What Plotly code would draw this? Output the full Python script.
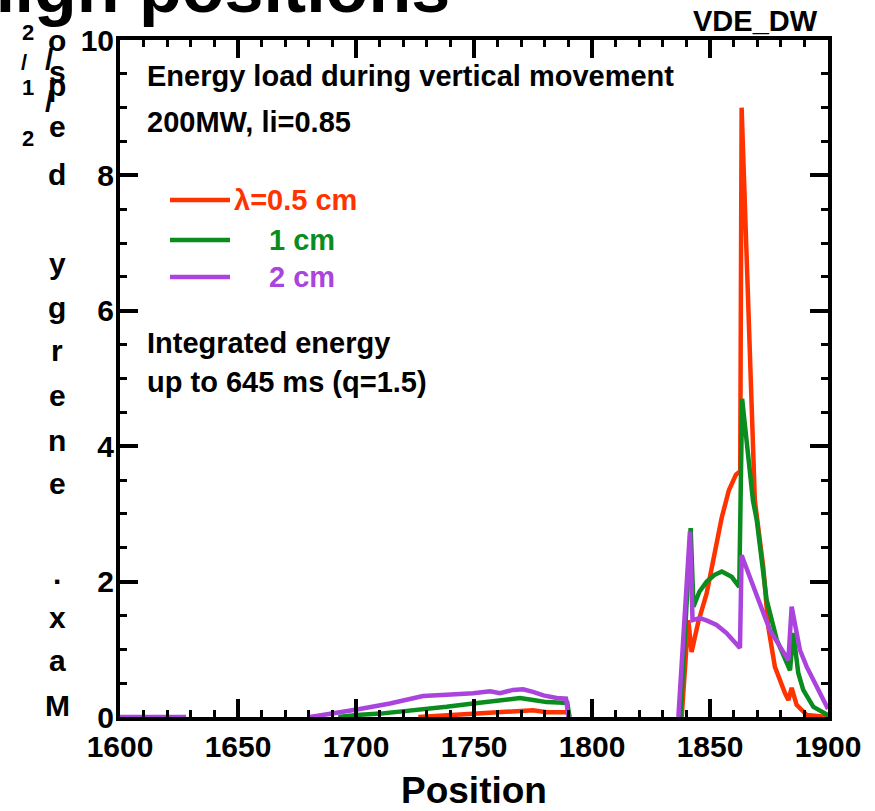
import plotly.graph_objects as go

FONT = "Liberation Sans, Arial, sans-serif"
RED = "#FF3300"
GREEN = "#0A8C1E"
PURPLE = "#AA44DD"

# lambda = 0.5 cm (None = zero, hidden under the axis line)
pos_05 = [1726.4, 1741, 1752.5, 1759.6, 1769.5, 1775, 1780.8, 1788.6, 1789.5, 1790.5, 1815,
          1838, 1840.8, 1842.2, 1845, 1848.6, 1852, 1855, 1858, 1861, 1862.8, 1863.4,
          1869, 1869.8, 1872.6, 1874.7, 1877.5, 1881.8, 1883.2, 1884.6, 1886.7, 1891, 1900]
e_05 = [0, 0.03, 0.06, 0.08, 0.1, 0.1, 0.07, 0.07, 0.07, 0, None,
        0, 1.43, 0.96, 1.4, 1.83, 2.4, 2.95, 3.35, 3.58, 3.63, 9.0,
        3.2, 3.0, 2.2, 1.33, 0.74, 0.35, 0.25, 0.43, 0.18, 0.03, 0]

# lambda = 1 cm
pos_1 = [1692.5, 1700.4, 1710.3, 1720, 1728.4, 1738.4, 1749.6, 1758, 1769.5, 1775,
         1780.8, 1788, 1789.5, 1790.5, 1815, 1837.5, 1841.8, 1843, 1845.5, 1848.6, 1852, 1855,
         1859.2, 1862.4, 1863.6, 1868.2, 1869.8, 1874, 1878.3, 1883.9, 1885.3, 1887.4,
         1889.5, 1893.8, 1898.7, 1900]
e_1 = [0, 0.03, 0.05, 0.08, 0.11, 0.15, 0.2, 0.24, 0.28, 0.25,
       0.22, 0.21, 0.21, 0, None, 0, 2.79, 1.63, 1.85, 2.0, 2.1, 2.15,
       2.07, 1.92, 4.7, 3.2, 2.91, 1.73, 1.14, 0.69, 1.24, 0.65,
       0.4, 0.15, 0.05, 0.03]

# lambda = 2 cm
pos_2 = [1600, 1628, 1655, 1680.5, 1690, 1700.4, 1714.4, 1728.4, 1738.4, 1749.6, 1756.8,
         1761, 1766.5, 1770.8, 1775, 1779.4, 1785, 1789, 1790, 1815, 1836.6, 1841.5, 1842.6,
         1845.8, 1849, 1852.8, 1857, 1862.7, 1863.4, 1869.8, 1875.4, 1883.2, 1884.6,
         1888.1, 1891, 1895.2, 1898.7, 1900]
e_2 = [0, 0, None, 0, 0.05, 0.11, 0.2, 0.31, 0.33, 0.35, 0.38,
       0.35, 0.40, 0.41, 0.37, 0.32, 0.28, 0.27, 0, None, 0, 2.74, 1.43,
       1.46, 1.42, 1.36, 1.24, 1.02, 2.39, 1.78, 1.28, 0.84, 1.63,
       0.99, 0.74, 0.45, 0.2, 0.12]

series = [
    ("λ=0.5 cm", pos_05, e_05, RED),
    ("1 cm", pos_1, e_1, GREEN),
    ("2 cm", pos_2, e_2, PURPLE),
]

# plot area in pixels
L, R, T, B = 120, 828, 40, 717


def px(x, y):
    return (x - L) / (R - L), (B - y) / (B - T)


fig = go.Figure()
for name, xs, ys, color in series:
    fig.add_trace(go.Scatter(x=xs, y=ys, mode="lines", name=name, connectgaps=False,
                             line={"color": color, "width": 4.5}, showlegend=False))

annotations = []


def text(s, x, y, size=29, color="black", xanchor="left", yanchor="middle"):
    ax, ay = px(x, y)
    annotations.append(dict(text=s, x=ax, y=ay, xref="paper", yref="paper", showarrow=False,
                            xanchor=xanchor, yanchor=yanchor,
                            font={"family": FONT, "size": size, "color": color, "weight": "bold"}))


text("Energy load during vertical movement", 145, 76)
text("200MW, li=0.85", 145, 122)
text("Integrated energy", 145, 343)
text("up to 645 ms (q=1.5)", 145, 382)
text("VDE_DW", 820, 21, xanchor="right")

# legend drawn by hand
legend_rows = [("λ=0.5 cm", RED, 200, 232), ("1 cm", GREEN, 240, 267), ("2 cm", PURPLE, 277, 267)]
shapes = []
for label, color, yy, tx in legend_rows:
    x0, y0 = px(170, yy)
    x1, _ = px(230, yy)
    shapes.append(dict(type="line", xref="paper", yref="paper", x0=x0, x1=x1, y0=y0, y1=y0,
                       line={"color": color, "width": 4.5}))
    text(label, tx, yy, color=color)

# cut-off slide title at the very top
text("Energy load at high positions", 452, 29, size=70, xanchor="right", yanchor="bottom")

# overflowing stacked y-axis label
ylabel_glyphs = [("o", 57, 41), ("/", 49, 60), ("s", 57, 72), ("p", 57, 86), ("/", 49, 102),
                 ("e", 57, 126), ("d", 57, 175), ("y", 57, 263), ("g", 57, 307), ("r", 57, 350),
                 ("e", 57, 395), ("n", 57, 440), ("e", 57, 483), (".", 57, 573), ("x", 57, 617),
                 ("a", 57, 660), ("M", 57, 705)]
for ch, gx, gy in ylabel_glyphs:
    text(ch, gx, gy, size=30, xanchor="center")
for ch, gx, gy in [("2", 28, 32), ("/", 24, 62), ("1", 28, 88), ("2", 28, 138)]:
    text(ch, gx, gy, size=22, xanchor="center")

axis_common = dict(
    showline=True, linewidth=4, linecolor="black", mirror="allticks",
    ticks="inside", ticklen=18, tickwidth=3.5, tickcolor="black",
    showgrid=False, zeroline=False, automargin=False,
    tickfont={"family": FONT, "size": 30, "color": "black", "weight": "bold"},
)

fig.update_xaxes(range=[1600, 1900], tick0=1600, dtick=50,
                 minor={"dtick": 10, "ticklen": 7, "tickwidth": 3, "ticks": "inside", "tickcolor": "black"},
                 title={"text": "Position", "standoff": 22,
                        "font": {"family": FONT, "size": 37, "color": "black", "weight": "bold"}},
                 ticklabelstandoff=0, **axis_common)
fig.update_yaxes(range=[0, 10], tick0=0, dtick=2,
                 minor={"dtick": 0.5, "ticklen": 7, "tickwidth": 3, "ticks": "inside", "tickcolor": "black"},
                 ticklabelstandoff=-4, **axis_common)

fig.update_layout(
    width=875, height=811,
    margin={"l": L, "r": 875 - R, "t": T, "b": 811 - B},
    plot_bgcolor="white", paper_bgcolor="white",
    font={"family": FONT},
    annotations=annotations, shapes=shapes,
)
fig.write_html("out.html", config={"displayModeBar": False},
               post_script="document.body.style.margin='0';")
